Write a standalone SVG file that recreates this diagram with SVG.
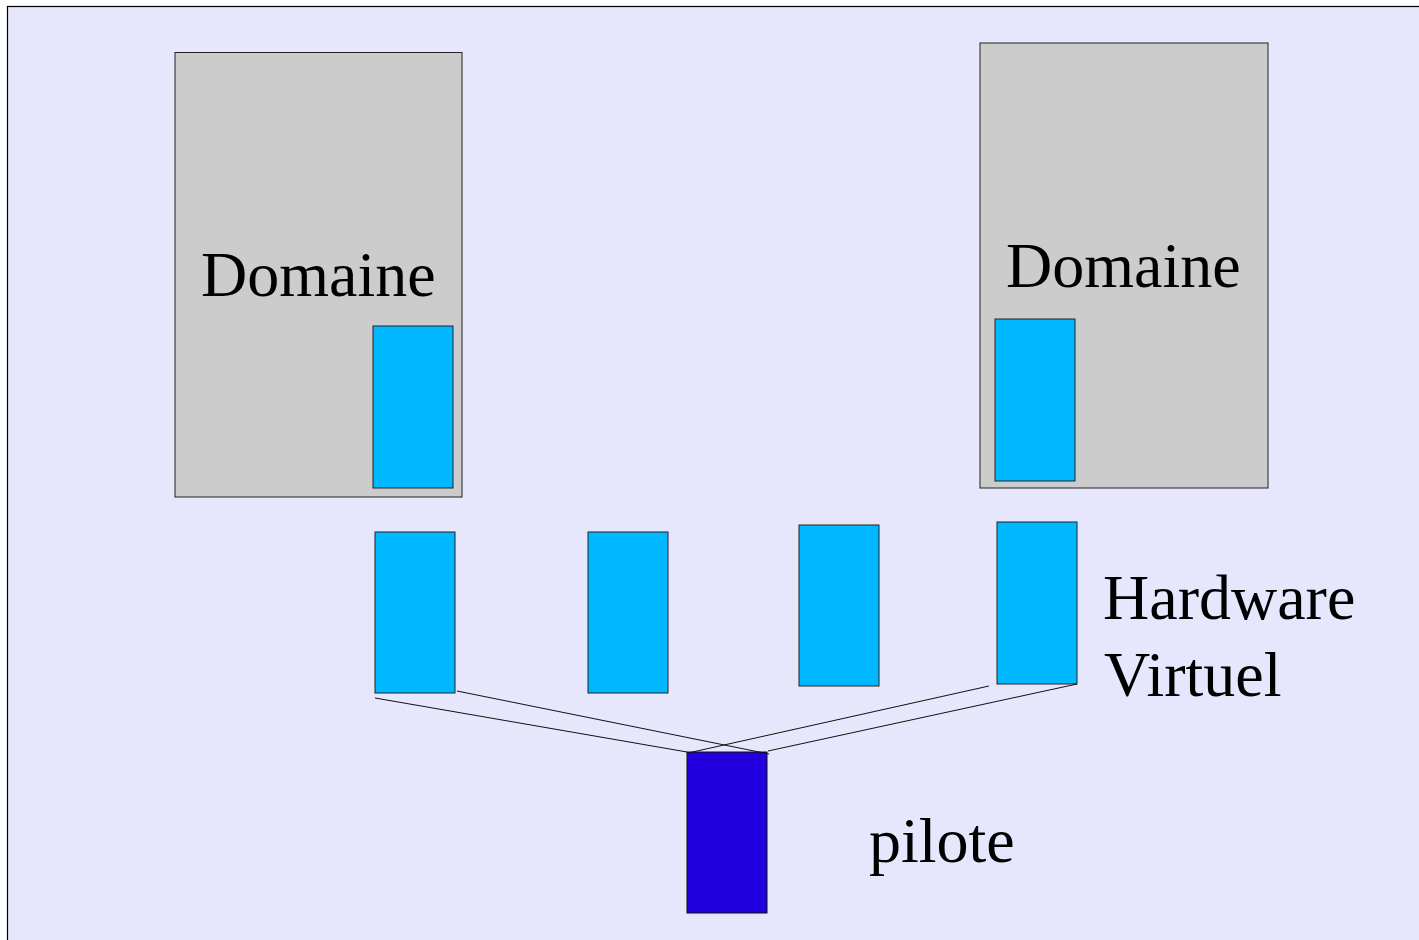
<svg xmlns="http://www.w3.org/2000/svg" width="1419" height="940" viewBox="0 0 1419 940">
<style>
.bg{fill:#e6e6fc;stroke:#000;stroke-width:1.2}
.dom{fill:#cccccc;stroke:#222;stroke-width:1}
.hw{fill:#00b8ff;stroke:#222;stroke-width:1}
.pil{fill:#2200dd;stroke:#111;stroke-width:1}
.ln{stroke:#111;stroke-width:1;fill:none}
.t{font-family:"Liberation Serif","Times New Roman",serif;font-size:64px;fill:#000}
</style>
<rect class="bg" x="7.5" y="6.5" width="1420" height="940"/>
<g id="domaine1">
<rect class="dom" x="175" y="52.5" width="287" height="444.5"/>
<text class="t" x="201" y="296">Domaine</text>
<rect class="hw" x="373" y="326" width="80" height="162"/>
</g>
<g id="domaine2">
<rect class="dom" x="980" y="43" width="288" height="445"/>
<text class="t" x="1006" y="287">Domaine</text>
<rect class="hw" x="995" y="319" width="80" height="162"/>
</g>
<g id="hw1"><rect class="hw" x="375" y="532" width="80" height="161"/></g>
<g id="hw2"><rect class="hw" x="588" y="532" width="80" height="161"/></g>
<g id="hw3"><rect class="hw" x="799" y="525" width="80" height="161"/></g>
<g id="hw4"><rect class="hw" x="997" y="522" width="80" height="162"/></g>
<g id="label-hw">
<text class="t" x="1103" y="619">Hardware</text>
<text class="t" x="1104" y="696">Virtuel</text>
</g>
<g id="pilote">
<rect class="pil" x="687" y="752" width="80" height="161"/>
<text class="t" x="869" y="862">pilote</text>
</g>
<g id="connectors">
<line class="ln" x1="375" y1="698" x2="687" y2="752"/>
<line class="ln" x1="457" y1="691" x2="769" y2="754"/>
<line class="ln" x1="989" y1="686" x2="688" y2="753"/>
<line class="ln" x1="1077" y1="684" x2="768" y2="751"/>
</g>
</svg>
